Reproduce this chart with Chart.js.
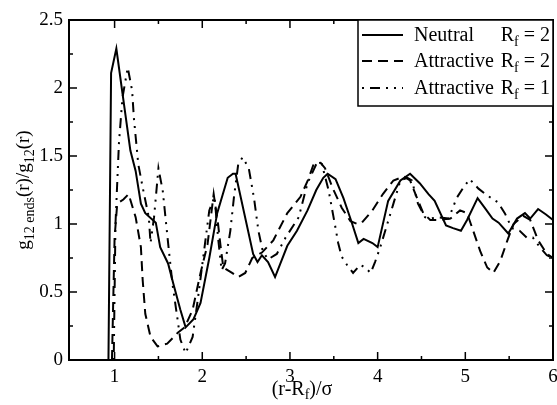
<!DOCTYPE html>
<html>
<head>
<meta charset="utf-8">
<script src="https://cdn.jsdelivr.net/npm/chart.js@4.4.0/dist/chart.umd.min.js"></script>
<style>
  html, body { margin: 0; padding: 0; background: #fff; }
  #wrap { width: 557px; height: 405px; }
</style>
</head>
<body>
<div id="wrap"><canvas id="c" width="557" height="405"></canvas></div>
<script>
// ---- data ----
const neutralX = [0.93,0.96,1.02,1.09,1.18,1.24,1.30,1.35,1.47,1.52,1.61,1.67,1.75,1.81,1.90,1.98,2.08,2.17,2.29,2.35,2.38,2.58,2.63,2.68,2.75,2.83,2.97,3.08,3.20,3.30,3.38,3.43,3.52,3.61,3.70,3.78,3.84,3.94,4.00,4.12,4.26,4.37,4.48,4.58,4.65,4.78,4.86,4.95,5.02,5.14,5.22,5.31,5.38,5.49,5.59,5.68,5.74,5.83,5.92,6.00];
const neutralY = [0,2.11,2.29,1.96,1.54,1.39,1.15,1.08,1.01,0.83,0.71,0.56,0.37,0.24,0.30,0.42,0.75,1.08,1.34,1.37,1.37,0.78,0.72,0.77,0.72,0.61,0.84,0.95,1.10,1.25,1.34,1.37,1.33,1.19,1.02,0.86,0.89,0.86,0.83,1.17,1.32,1.37,1.30,1.22,1.17,0.99,0.97,0.95,1.03,1.19,1.12,1.04,1.01,0.93,1.04,1.08,1.04,1.11,1.07,1.03];

const attr2X = [0.97,1.00,1.03,1.10,1.16,1.24,1.30,1.32,1.35,1.41,1.49,1.60,1.72,1.80,1.89,1.98,2.06,2.13,2.18,2.21,2.24,2.34,2.41,2.49,2.57,2.68,2.81,2.97,3.12,3.21,3.27,3.35,3.40,3.49,3.59,3.69,3.77,3.82,3.94,4.06,4.18,4.30,4.37,4.45,4.52,4.60,4.71,4.83,4.94,5.02,5.09,5.17,5.25,5.32,5.40,5.48,5.55,5.66,5.74,5.83,5.93,6.00];
const attr2Y = [0,0.90,1.15,1.18,1.22,1.05,0.83,0.59,0.34,0.17,0.10,0.12,0.20,0.24,0.37,0.64,0.85,1.22,1.00,0.83,0.68,0.64,0.61,0.64,0.75,0.79,0.88,1.08,1.20,1.33,1.44,1.45,1.41,1.26,1.12,1.02,1.00,1.01,1.10,1.22,1.32,1.35,1.32,1.19,1.08,1.03,1.03,1.04,1.10,1.08,0.95,0.80,0.68,0.64,0.73,0.88,1.00,1.06,1.03,0.88,0.78,0.75];

const attr1X = [0.99,1.01,1.05,1.09,1.15,1.20,1.22,1.27,1.32,1.39,1.41,1.45,1.50,1.55,1.58,1.62,1.66,1.72,1.75,1.81,1.89,1.95,2.02,2.08,2.14,2.18,2.22,2.26,2.32,2.36,2.41,2.46,2.53,2.59,2.64,2.69,2.75,2.85,2.95,3.10,3.20,3.30,3.36,3.44,3.48,3.52,3.55,3.59,3.65,3.72,3.80,3.86,3.92,3.97,4.03,4.11,4.18,4.26,4.34,4.39,4.46,4.54,4.60,4.68,4.81,4.90,4.98,5.05,5.15,5.25,5.37,5.45,5.53,5.62,5.70,5.77,5.85,5.93,6.00];
const attr1Y = [0,1.00,1.60,1.93,2.15,1.98,1.78,1.44,1.27,1.05,0.86,1.05,1.41,1.24,1.05,0.80,0.56,0.29,0.15,0.05,0.17,0.45,0.80,1.10,1.20,0.90,0.66,0.71,0.95,1.19,1.44,1.49,1.41,1.19,0.95,0.80,0.74,0.78,0.90,1.05,1.30,1.44,1.45,1.25,1.11,0.97,0.86,0.76,0.70,0.64,0.70,0.68,0.64,0.72,0.83,1.00,1.15,1.32,1.34,1.32,1.15,1.05,1.04,1.05,1.04,1.19,1.27,1.33,1.26,1.21,1.16,1.08,0.97,0.95,0.90,0.90,0.83,0.77,0.75];

const seriesNames = ['Neutral', 'Attractive', 'Attractive'];
const seriesRf = ['2', '2', '1'];

const xTickValues = [1, 2, 3, 4, 5, 6];
const xTickLabels = ['1', '2', '3', '4', '5', '6'];
const xMinorValues = [0.5, 1.5, 2.5, 3.5, 4.5, 5.5];
const yTickValues = [0, 0.5, 1, 1.5, 2, 2.5];
const yTickLabels = ['0', '0.5', '1', '1.5', '2', '2.5'];
const yMinorValues = [0.25, 0.75, 1.25, 1.75, 2.25];

// ---- styling ----
const SERIF = '"Liberation Serif", "DejaVu Serif", serif';
const dashes = [[], [10, 6], [2, 6, 10, 6, 2, 6]];
const toPts = (xs, ys) => xs.map((x, i) => ({ x: x, y: ys[i] }));

Chart.defaults.color = '#000';
Chart.defaults.font.family = SERIF;

const decor = {
  id: 'decor',
  afterDraw(chart) {
    const ctx = chart.ctx;
    const a = chart.chartArea;
    const xs = chart.scales.x, ys = chart.scales.y;
    ctx.save();
    ctx.strokeStyle = '#000';
    ctx.fillStyle = '#000';
    // frame
    ctx.lineWidth = 2;
    ctx.strokeRect(a.left, a.top, a.right - a.left, a.bottom - a.top);
    // ticks (inward, all four sides)
    ctx.lineWidth = 1.5;
    const tickX = (v, len) => {
      const p = xs.getPixelForValue(v);
      if (p < a.left + 3 || p > a.right - 3) return;
      ctx.beginPath();
      ctx.moveTo(p, a.bottom); ctx.lineTo(p, a.bottom - len);
      ctx.moveTo(p, a.top); ctx.lineTo(p, a.top + len);
      ctx.stroke();
    };
    const tickY = (v, len) => {
      const p = ys.getPixelForValue(v);
      if (p < a.top + 3 || p > a.bottom - 3) return;
      ctx.beginPath();
      ctx.moveTo(a.left, p); ctx.lineTo(a.left + len, p);
      ctx.moveTo(a.right, p); ctx.lineTo(a.right - len, p);
      ctx.stroke();
    };
    xTickValues.forEach(v => tickX(v, 8));
    xMinorValues.forEach(v => tickX(v, 4));
    yTickValues.forEach(v => tickY(v, 8));
    yMinorValues.forEach(v => tickY(v, 4));

    // helper: draw runs of [text, size, dy]
    const runsWidth = runs => runs.reduce((w, r) => { ctx.font = r[1] + 'px ' + SERIF; return w + ctx.measureText(r[0]).width; }, 0);
    const drawRuns = (runs, x, y) => {
      let cx = x;
      runs.forEach(r => {
        ctx.font = r[1] + 'px ' + SERIF;
        ctx.fillText(r[0], cx, y + r[2]);
        cx += ctx.measureText(r[0]).width;
      });
    };
    ctx.textBaseline = 'alphabetic';
    ctx.textAlign = 'left';

    // x-axis title
    const xt = [['(r-R', 20, 0], ['f', 14, 4], [')/\u03c3', 20, 0]];
    const xw = runsWidth(xt);
    drawRuns(xt, 302 - xw / 2, 395);

    // y-axis title (rotated)
    const yt = [['g', 19, 0], ['12 ends', 14, 5], ['(r)/g', 19, 0], ['12', 14, 5], ['(r)', 19, 0]];
    const yw = runsWidth(yt);
    ctx.save();
    ctx.translate(29, (a.top + a.bottom) / 2);
    ctx.rotate(-Math.PI / 2);
    drawRuns(yt, -yw / 2, 0);
    ctx.restore();

    // legend
    const lx0 = 358, ly0 = a.top, lx1 = a.right, ly1 = 106;
    ctx.fillStyle = '#fff';
    ctx.fillRect(lx0, ly0, lx1 - lx0, ly1 - ly0);
    ctx.fillStyle = '#000';
    ctx.lineWidth = 1.5;
    ctx.strokeRect(lx0, ly0, lx1 - lx0, ly1 - ly0);
    const rowY = [35, 61, 88];
    chart.data.datasets.forEach((ds, i) => {
      const y = rowY[i];
      ctx.save();
      ctx.lineWidth = 2;
      ctx.setLineDash(dashes[i]);
      ctx.beginPath();
      ctx.moveTo(362, y); ctx.lineTo(403, y);
      ctx.stroke();
      ctx.restore();
      ctx.font = '20px ' + SERIF;
      ctx.fillText(seriesNames[i], 414, y + 6);
      const rr = [['R', 20, 0], ['f', 14, 5], [' = ' + seriesRf[i], 20, 0]];
      const rw = runsWidth(rr);
      drawRuns(rr, 550 - rw, y + 6);
    });
    ctx.restore();
  }
};

new Chart(document.getElementById('c'), {
  type: 'scatter',
  data: {
    datasets: [
      { label: 'Neutral R_f = 2', data: toPts(neutralX, neutralY) },
      { label: 'Attractive R_f = 2', data: toPts(attr2X, attr2Y) },
      { label: 'Attractive R_f = 1', data: toPts(attr1X, attr1Y) }
    ].map((d, i) => Object.assign(d, {
      showLine: true,
      borderColor: '#000',
      backgroundColor: '#000',
      borderWidth: 2,
      borderDash: dashes[i],
      pointRadius: 0,
      tension: 0,
      clip: 2
    }))
  },
  options: {
    responsive: false,
    animation: false,
    events: [],
    layout: { padding: { left: 0, right: 4, top: 20, bottom: 0 } },
    plugins: { legend: { display: false }, tooltip: { enabled: false } },
    scales: {
      x: {
        type: 'linear', min: 0.48, max: 6,
        grid: { display: false, drawTicks: false },
        border: { display: false },
        afterBuildTicks: s => { s.ticks = xTickValues.map(v => ({ value: v })); },
        afterFit: s => { s.height = 45; s.paddingLeft = 0; s.paddingRight = 0; },
        ticks: { padding: 6, font: { size: 19, family: SERIF }, color: '#000',
                 maxRotation: 0, autoSkip: false,
                 callback: (v, i) => xTickLabels[i] }
      },
      y: {
        type: 'linear', min: 0, max: 2.5,
        grid: { display: false, drawTicks: false },
        border: { display: false },
        afterBuildTicks: s => { s.ticks = yTickValues.map(v => ({ value: v })); },
        afterFit: s => { s.width = 69; s.paddingTop = 0; s.paddingBottom = 0; },
        ticks: { padding: 6, font: { size: 19, family: SERIF }, color: '#000',
                 autoSkip: false,
                 callback: (v, i) => yTickLabels[i] }
      }
    }
  },
  plugins: [decor]
});
</script>
</body>
</html>
